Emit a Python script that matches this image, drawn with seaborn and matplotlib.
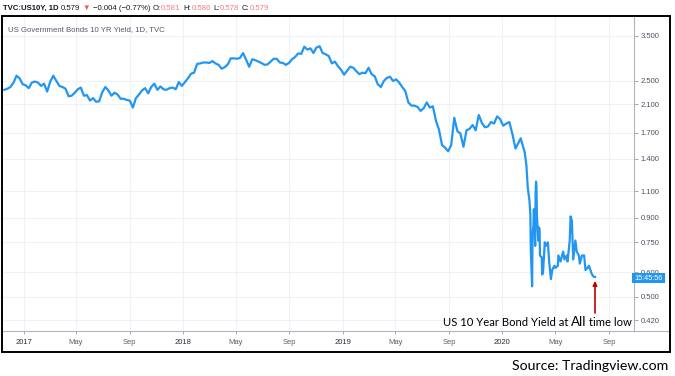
import numpy as np
import pandas as pd
import matplotlib
matplotlib.use("Agg")
import matplotlib.pyplot as plt
import seaborn as sns
from matplotlib.patches import Rectangle
from matplotlib.lines import Line2D
from matplotlib.ticker import FixedLocator, NullLocator, FuncFormatter

# ---------------- data ----------------
# weekly readings (Fridays) from 2016-11-18
yields_2016 = [2.34, 2.36, 2.39, 2.47, 2.60, 2.55, 2.44]
# weekly readings from 2017-01-06
yields_2017 = [2.42, 2.37, 2.47, 2.49, 2.47, 2.41, 2.45, 2.31, 2.49, 2.60,
               2.50, 2.41, 2.39, 2.36, 2.23, 2.24, 2.29, 2.35, 2.38, 2.24,
               2.25, 2.16, 2.20, 2.14, 2.15, 2.30, 2.39, 2.33, 2.24, 2.29,
               2.26, 2.19, 2.19, 2.17, 2.16, 2.05, 2.20, 2.26, 2.33, 2.37,
               2.28, 2.39, 2.45, 2.34, 2.40, 2.35, 2.34, 2.37, 2.38, 2.35,
               2.48, 2.41]
# weekly readings from 2018-01-05
yields_2018 = [2.48, 2.55, 2.64, 2.66, 2.84, 2.85, 2.87, 2.87, 2.86, 2.90,
               2.85, 2.82, 2.74, 2.77, 2.83, 2.96, 2.96, 2.95, 2.97, 3.08,
               2.93, 2.78, 2.94, 2.92, 2.89, 2.86, 2.82, 2.83, 2.89, 2.95,
               2.95, 2.87, 2.86, 2.82, 2.86, 2.94, 2.99, 3.07, 3.06, 3.23,
               3.16, 3.19, 3.08, 3.21, 3.24, 3.08, 3.05, 3.01, 2.85, 2.89,
               2.79, 2.72]
# weekly readings from 2019-01-04
yields_2019 = [2.62, 2.70, 2.78, 2.76, 2.69, 2.63, 2.66, 2.65, 2.76, 2.63,
               2.59, 2.44, 2.39, 2.50, 2.56, 2.58, 2.50, 2.53, 2.47, 2.39,
               2.32, 2.13, 2.08, 2.08, 2.06, 2.00, 2.04, 2.13, 2.05, 2.07,
               1.86, 1.74, 1.55, 1.52, 1.48, 1.55, 1.90, 1.72, 1.69, 1.53,
               1.73, 1.75, 1.80, 1.73, 1.94, 1.83, 1.77, 1.78, 1.84, 1.82,
               1.92, 1.88]
# 2020 readings
dates_2020 = ["2020-01-03", "2020-01-10", "2020-01-17", "2020-01-24", "2020-01-31",
              "2020-02-07", "2020-02-12", "2020-02-14", "2020-02-21", "2020-02-25",
              "2020-02-28", "2020-03-03", "2020-03-05", "2020-03-06", "2020-03-09",
              "2020-03-10", "2020-03-11", "2020-03-12", "2020-03-13", "2020-03-16",
              "2020-03-17", "2020-03-18", "2020-03-19", "2020-03-20", "2020-03-23",
              "2020-03-24", "2020-03-26", "2020-03-27", "2020-03-31", "2020-04-01",
              "2020-04-03", "2020-04-07", "2020-04-09", "2020-04-14", "2020-04-17",
              "2020-04-21", "2020-04-24", "2020-04-29", "2020-05-01", "2020-05-07",
              "2020-05-08", "2020-05-13", "2020-05-19", "2020-05-22", "2020-05-27",
              "2020-05-29", "2020-06-03", "2020-06-05", "2020-06-08", "2020-06-11",
              "2020-06-16", "2020-06-19", "2020-06-24", "2020-06-26", "2020-07-01",
              "2020-07-06", "2020-07-09", "2020-07-14", "2020-07-17", "2020-07-22",
              "2020-07-24", "2020-07-28", "2020-07-31"]
yields_2020 = [1.79, 1.82, 1.84, 1.68, 1.51,
               1.58, 1.63, 1.59, 1.47, 1.33,
               1.13, 1.02, 0.92, 0.71, 0.54,
               0.80, 0.82, 0.85, 0.96, 0.73,
               1.08, 1.18, 1.12, 0.92, 0.76,
               0.84, 0.83, 0.68, 0.67, 0.59,
               0.60, 0.75, 0.73, 0.75, 0.65,
               0.57, 0.61, 0.63, 0.62, 0.63,
               0.68, 0.65, 0.70, 0.66, 0.68,
               0.65, 0.76, 0.91, 0.88, 0.66,
               0.76, 0.70, 0.68, 0.64, 0.68,
               0.68, 0.61, 0.62, 0.63, 0.60,
               0.59, 0.58, 0.579]

y_ticks = [3.5, 2.5, 2.1, 1.7, 1.4, 1.1, 0.9, 0.75, 0.6, 0.5, 0.42]
x_tick_dates = ["2017-01-01", "2017-05-01", "2017-09-01", "2018-01-01", "2018-05-01",
                "2018-09-01", "2019-01-01", "2019-05-01", "2019-09-01", "2020-01-01",
                "2020-05-01", "2020-09-01"]
x_tick_labels = ["2017", "May", "Sep", "2018", "May", "Sep", "2019", "May", "Sep",
                 "2020", "May", "Sep"]

header_title = "TVC:US10Y, 1D"
header_last = "0.579"
header_change = "\u22120.004 (\u22120.77%)"
ohlc_keys = ["O:", "H:", "L:", "C:"]
ohlc_vals = ["0.581", "0.586", "0.578", "0.579"]
legend_text = "US Government Bonds 10 YR Yield, 1D, TVC"
annot_parts = ["US 10 Year Bond Yield at", "All", "time low"]
source_text = "Source: Tradingview.com"
tag_text = "15:45:56"

# ---------------- build frame ----------------
frames = []
for start, vals in [("2016-11-18", yields_2016), ("2017-01-06", yields_2017),
                    ("2018-01-05", yields_2018), ("2019-01-04", yields_2019)]:
    frames.append(pd.DataFrame({"date": pd.date_range(start, periods=len(vals), freq="7D"),
                                "yield": vals}))
frames.append(pd.DataFrame({"date": pd.to_datetime(dates_2020), "yield": yields_2020}))
df = pd.concat(frames, ignore_index=True)

# ---------------- figure ----------------
plt.rcParams["font.family"] = ["Liberation Sans", "DejaVu Sans"]
W, H = 675, 376
fig = plt.figure(figsize=(W / 100, H / 100), dpi=100)
fig.patch.set_facecolor("white")


def fx(px):
    return px / W


def fy(py):
    return 1 - py / H


ax = fig.add_axes([fx(3), fy(331), fx(634) - fx(3), fy(17) - fy(331)])
sns.lineplot(data=df, x="date", y="yield", ax=ax, color="#2196F3", linewidth=1.6,
             estimator=None, sort=True)
ax.set_yscale("log")
ax.set_ylim(0.387, 4.03)
ax.set_xlim(pd.Timestamp("2016-11-15"), pd.Timestamp("2020-10-28"))
ax.set_xlabel("")
ax.set_ylabel("")

ax.yaxis.tick_right()
ax.yaxis.set_major_locator(FixedLocator(y_ticks))
ax.yaxis.set_minor_locator(NullLocator())
ax.yaxis.set_major_formatter(FuncFormatter(lambda v, p: f"{v:.3f}"))
ax.tick_params(axis="y", which="major", length=3, width=0.6, color="#9598a1",
               labelsize=5.5, labelcolor="#4c525e", pad=2)
ax.tick_params(axis="y", which="minor", length=0)

ax.set_xticks(pd.to_datetime(x_tick_dates))
ax.set_xticklabels(x_tick_labels)
ax.tick_params(axis="x", length=2.5, width=0.6, color="#9598a1", labelsize=5.5,
               labelcolor="#5d606b", pad=3)
for lbl in ax.get_xticklabels():
    if lbl.get_text().isdigit():
        lbl.set_color("#2a2e39")

ax.grid(True, which="major", color="#eef1f7", linewidth=0.8)
ax.set_axisbelow(True)
for side in ["top", "left"]:
    ax.spines[side].set_visible(False)
for side in ["right", "bottom"]:
    ax.spines[side].set_color("#b2b5be")
    ax.spines[side].set_linewidth(0.8)

# extend time-axis line under price scale
fig.add_artist(Line2D([fx(634), fx(670)], [fy(331), fy(331)], transform=fig.transFigure,
                      color="#b2b5be", lw=0.8))

# outer frame
fig.add_artist(Rectangle((fx(2), fy(352)), fx(670) - fx(2), fy(16) - fy(352),
                         transform=fig.transFigure, fill=False, ec="black", lw=1.4, zorder=6))

# countdown tag
fig.add_artist(Rectangle((fx(632), fy(283)), fx(665) - fx(632), fy(273) - fy(283),
                         transform=fig.transFigure, fc="#2196F3", ec="none", zorder=5))
fig.text(fx(648.5), fy(278), tag_text, color="white", fontsize=5.2, ha="center",
         va="center", zorder=7)

# legend line
fig.text(fx(8), fy(30), legend_text, fontsize=5.6, color="#555a66", va="center")

renderer = fig.canvas.get_renderer()


def seq_text(x_px, y_px, parts, gap, **common):
    x = x_px
    for s, kw in parts:
        opts = dict(common)
        opts.update(kw)
        t = fig.text(fx(x), fy(y_px), s, ha="left", va="baseline", **opts)
        bb = t.get_window_extent(renderer=renderer)
        x += bb.width + gap
    return x


red = "#f7525f"
soft_red = "#f77c80"
dark = "#131722"
header_parts = [(header_title, {"color": dark, "fontweight": "bold"}),
                (header_last, {"color": dark}),
                ("\u25bc", {"color": red, "fontsize": 5.5}), (header_change, {"color": dark})]
for k, v in zip(ohlc_keys, ohlc_vals):
    header_parts.append((k, {"color": dark}))
    header_parts.append((v, {"color": soft_red}))

x = 3
fs = 5.6
for s, kw in header_parts:
    opts = {"fontsize": fs}
    opts.update(kw)
    t = fig.text(fx(x), fy(9.5), s, ha="left", va="baseline", **opts)
    bb = t.get_window_extent(renderer=renderer)
    if s in ohlc_keys:
        x += bb.width + 0.5
    else:
        x += bb.width + 2.4

# annotation
seq_text(443, 326, [(annot_parts[0], {"fontsize": 8.1}), (annot_parts[1], {"fontsize": 9.6}),
                    (annot_parts[2], {"fontsize": 8.1})], gap=2.5,
         family=["Lato", "DejaVu Sans"], color="black")

# red arrow
ax.annotate("", xy=(fx(595), fy(281)), xytext=(fx(595), fy(313)), xycoords="figure fraction",
            textcoords="figure fraction",
            arrowprops=dict(arrowstyle="-|>", color="#c00000", lw=1.2, mutation_scale=6,
                            shrinkA=0, shrinkB=0), annotation_clip=False)

# source
fig.text(fx(668), fy(366), source_text, ha="right", va="center", fontsize=10.2,
         family=["Lato", "DejaVu Sans"], color="black")

fig.savefig("out.png", dpi=100, facecolor="white")
